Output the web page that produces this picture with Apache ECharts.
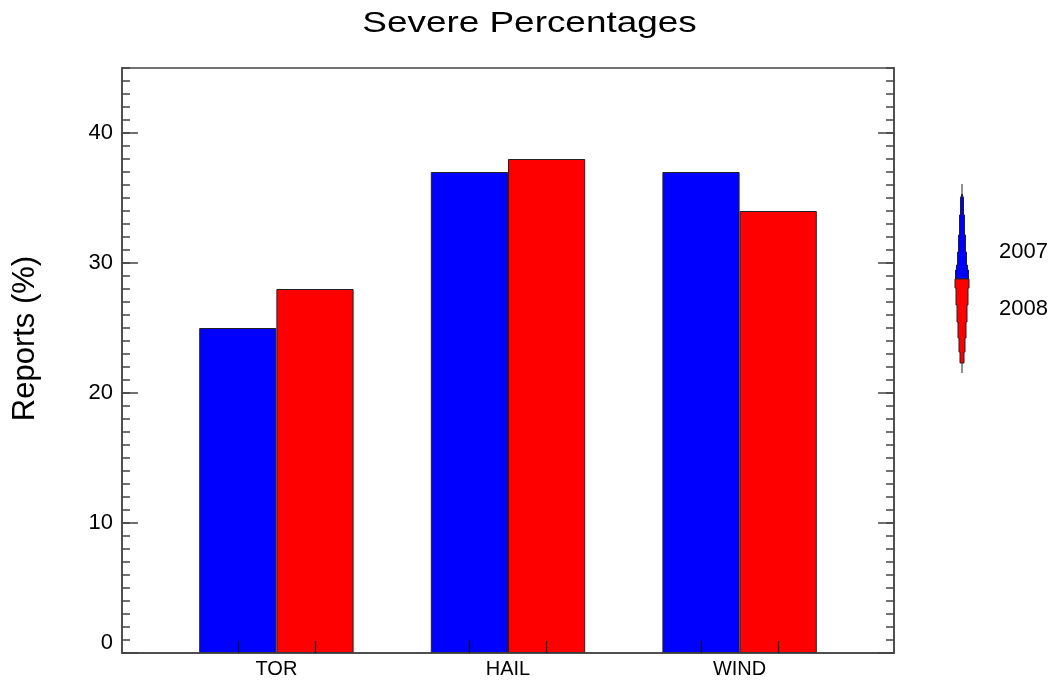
<!DOCTYPE html>
<html>
<head>
<meta charset="utf-8">
<script src="https://cdn.jsdelivr.net/npm/echarts@6/dist/echarts.min.js"></script>
<style>
html,body{margin:0;padding:0;background:#fff;}
#chart{width:1059px;height:686px;}
</style>
</head>
<body>
<div id="chart"></div>
<script>
// ---- data ----
const categories = ['TOR', 'HAIL', 'WIND'];
const seriesNames = ['2007', '2008'];
const values2007 = [25, 37, 37];
const values2008 = [28, 38, 34];
const yTickValues = [0, 10, 20, 30, 40];
const titleText = 'Severe Percentages';
const yAxisTitle = 'Reports (%)';

// ---- layout ----
const G = { left: 122, top: 68, width: 772, height: 585 };
const X_MIN = 0, X_MAX = 10, Y_MIN = 0, Y_MAX = 45;
const groupPos = categories.map((_, i) => 2 + 3 * i);
const barTickPos = [];
groupPos.forEach(p => { barTickPos.push(p - 0.5, p + 0.5); });
const barW = G.width / (X_MAX - X_MIN);
const FONT = '"Liberation Sans", Arial, Helvetica, sans-serif';
const frameColor = '#444';

const chart = echarts.init(document.getElementById('chart'), null, { renderer: 'canvas' });

const labelStyle = { fontFamily: FONT, fontSize: 22, color: '#000' };

const option = {
  animation: false,
  backgroundColor: '#fff',
  legend: {
    orient: 'vertical',
    left: 994,
    top: 241,
    padding: 0,
    itemWidth: 0,
    itemHeight: 22,
    itemGap: 35,
    icon: 'none',
    selectedMode: false,
    data: seriesNames,
    textStyle: { fontFamily: FONT, fontSize: 22, color: '#000' }
  },
  grid: [
    Object.assign({ show: true, borderColor: frameColor, borderWidth: 1.5, backgroundColor: 'transparent' }, G),
    Object.assign({ show: false }, G)
  ],
  xAxis: [
    {
      gridIndex: 0, type: 'value', min: X_MIN, max: X_MAX, z: 10,
      axisLine: { show: true, lineStyle: { color: frameColor, width: 1.5 } },
      axisTick: { show: true, inside: true, length: 12, customValues: barTickPos, lineStyle: { color: '#111', width: 1.2 } },
      axisLabel: Object.assign({ customValues: groupPos, margin: 6, fontSize: 20,
        formatter: v => categories[groupPos.indexOf(v)] || '' }, { fontFamily: FONT, color: '#000' }),
      splitLine: { show: false }
    },
    {
      gridIndex: 1, type: 'value', min: X_MIN, max: X_MAX, show: false
    }
  ],
  yAxis: [
    {
      gridIndex: 0, type: 'value', position: 'left', min: Y_MIN, max: Y_MAX, z: 10,
      axisLine: { show: true, lineStyle: { color: frameColor, width: 1.5 } },
      axisTick: { show: true, inside: true, length: 16, customValues: yTickValues, lineStyle: { color: frameColor, width: 1.5 } },
      axisLabel: Object.assign({ customValues: yTickValues, margin: 9,
        formatter: v => v === 0 ? '{z|0}' : String(v),
        rich: { z: { fontFamily: FONT, fontSize: 22, color: '#000', padding: [0, 0, 20, 0] } } }, labelStyle),
      splitLine: { show: false }
    },
    {
      gridIndex: 0, type: 'value', position: 'right', min: Y_MIN, max: Y_MAX, z: 10,
      axisLine: { show: true, lineStyle: { color: frameColor, width: 1.5 } },
      axisTick: { show: true, inside: true, length: 16, customValues: yTickValues, lineStyle: { color: frameColor, width: 1.5 } },
      axisLabel: { show: false },
      splitLine: { show: false }
    },
    {
      gridIndex: 1, type: 'value', position: 'left', min: Y_MIN, max: Y_MAX, interval: 1,
      axisLine: { show: false },
      axisTick: { show: true, inside: true, length: 8, lineStyle: { color: frameColor, width: 1.5 } },
      axisLabel: { show: false },
      splitLine: { show: false }
    },
    {
      gridIndex: 1, type: 'value', position: 'right', min: Y_MIN, max: Y_MAX, interval: 1,
      axisLine: { show: false },
      axisTick: { show: true, inside: true, length: 8, lineStyle: { color: frameColor, width: 1.5 } },
      axisLabel: { show: false },
      splitLine: { show: false }
    }
  ],
  series: [
    {
      name: seriesNames[0], type: 'bar', xAxisIndex: 0, yAxisIndex: 0,
      barWidth: barW, barGap: '0%',
      itemStyle: { color: '#0000ff', borderColor: '#222', borderWidth: 1 },
      data: values2007.map((v, i) => [groupPos[i], v]),
      z: 1
    },
    {
      name: seriesNames[1], type: 'bar', xAxisIndex: 0, yAxisIndex: 0,
      barWidth: barW, barGap: '0%',
      itemStyle: { color: '#ff0000', borderColor: '#222', borderWidth: 1 },
      data: values2008.map((v, i) => [groupPos[i], v]),
      z: 1
    }
  ],
  graphic: [
    {
      type: 'text', x: 529.5, y: 24, scaleX: 1.23,
      style: { text: titleText, fontFamily: FONT, fontSize: 30, fill: '#000', align: 'center', verticalAlign: 'middle' }
    },
    {
      type: 'text', x: 25, y: 338.5, rotation: Math.PI / 2,
      style: { text: yAxisTitle, fontFamily: FONT, fontSize: 31, fill: '#000', align: 'center', verticalAlign: 'middle' }
    },
    // legend glyph (spindle)
    {
      type: 'line', shape: { x1: 962, y1: 184, x2: 962, y2: 373 },
      style: { stroke: '#222', lineWidth: 1 }
    },
    {
      type: 'polygon',
      shape: { points: [[962, 194], [963.5, 198], [963.5, 215], [964.5, 215], [964.5, 235], [965.5, 235], [965.5, 252],
                        [966.5, 252], [966.5, 265], [967.5, 265], [967.5, 270], [968.5, 270], [968.5, 279],
                        [955.5, 279], [955.5, 270], [956.5, 270], [956.5, 265], [957.5, 265], [957.5, 252], [958.5, 252],
                        [958.5, 235], [959.5, 235], [959.5, 215], [960.5, 215], [960.5, 198]] },
      style: { fill: '#0000ff', stroke: '#222', lineWidth: 1 }
    },
    {
      type: 'polygon',
      shape: { points: [[955, 279], [969, 279], [969, 288], [968, 288], [968, 305], [967, 305], [967, 322], [966, 322],
                        [966, 338], [965, 338], [965, 352], [964, 352], [964, 363], [960, 363], [960, 352], [959, 352],
                        [959, 338], [958, 338], [958, 322], [957, 322], [957, 305], [956, 305], [956, 288], [955, 288]] },
      style: { fill: '#ff0000', stroke: '#222', lineWidth: 1 }
    }
  ]
};

chart.setOption(option);
</script>
</body>
</html>
